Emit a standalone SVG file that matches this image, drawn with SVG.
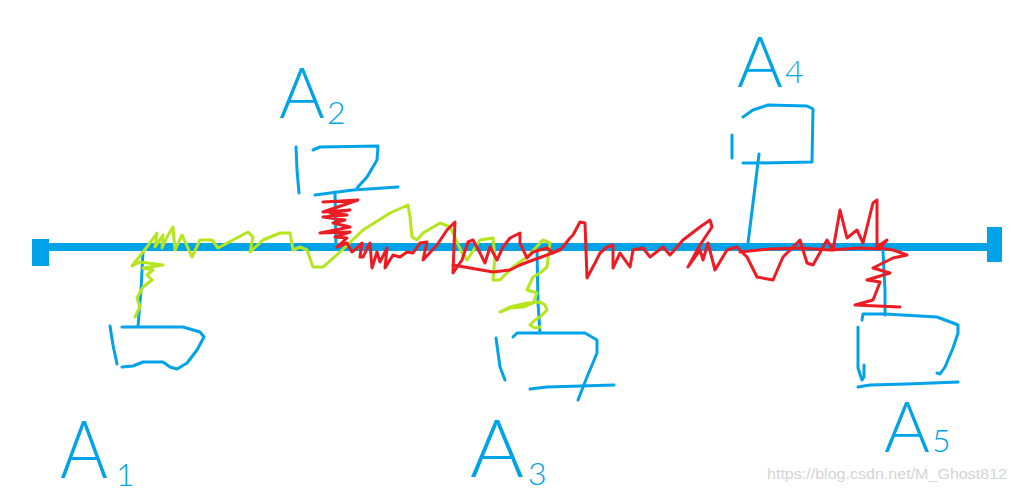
<svg xmlns="http://www.w3.org/2000/svg" width="1017" height="493" viewBox="0 0 1017 493">
<style>
.b{fill:none;stroke:#00a2e8;stroke-width:3;stroke-linecap:round;stroke-linejoin:round}
.g{fill:none;stroke:#b5e61d;stroke-width:3;stroke-linecap:round;stroke-linejoin:round}
.r{fill:none;stroke:#ed1c24;stroke-width:3;stroke-linecap:round;stroke-linejoin:round}
.lbl{font-family:Lato,"Liberation Sans",sans-serif;font-weight:300;fill:#00a2e8;font-size:80px}
.sm{font-size:70px}
.sub{font-size:32px}
.wm{font-family:"Liberation Sans",Arial,sans-serif;font-size:15px;fill:#d4d4d4}
</style>
<rect width="1017" height="493" fill="#ffffff"/>
<g id="bus">
<line x1="40" y1="247" x2="995" y2="247" stroke="#00a2e8" stroke-width="8"/>
<rect x="32" y="239" width="17" height="27" fill="#00a2e8"/>
<rect x="987" y="227" width="15" height="35" fill="#00a2e8"/>
</g>
<g id="connectors">
<polyline class="b" points="143,252 141,290 138,326"/>
<polyline class="b" points="335,192 336,248"/>
<polyline class="b" points="537,250 538,303 540,333"/>
<polyline class="b" points="759,154 755,187 748,243"/>
<polyline class="b" points="883,252 885,290 885,315"/>
</g>
<g id="node-a1">
<polyline class="b" points="110,326 113,345 117,364"/>
<polyline class="b" points="122,327 183,327 200,332 204,337 197,350 187,363 177,369 170,367 163,362 143,362 133,366 122,367"/>
<text class="lbl"><tspan x="60" y="478" textLength="48" lengthAdjust="spacingAndGlyphs">A</tspan><tspan class="sub" x="116" y="486">1</tspan></text>
</g>
<g id="node-a2">
<polyline class="b" points="296,147 297,170 299,193"/>
<polyline class="b" points="313,150 320,147 378,146 377,160 367,177 357,188"/>
<polyline class="b" points="315,195 353,190 398,187"/>
<text class="lbl sm" x="279" y="118">A<tspan class="sub" dx="2" dy="6">2</tspan></text>
</g>
<g id="node-a3">
<polyline class="b" points="496,338 500,367 505,380"/>
<polyline class="b" points="513,337 517,333 585,333 597,340 597,353 587,377 578,400"/>
<polyline class="b" points="530,389 547,387 614,385"/>
<text class="lbl"><tspan x="470" y="477" textLength="54" lengthAdjust="spacingAndGlyphs">A</tspan><tspan class="sub" x="528" y="485">3</tspan></text>
</g>
<g id="node-a4">
<polyline class="b" points="743,117 753,110 768,105 807,106 813,109 812,162 755,163 743,163"/>
<polyline class="b" points="732,135 732,158"/>
<text class="lbl sm" x="737" y="87">A<tspan class="sub" dx="2" dy="-4">4</tspan></text>
</g>
<g id="node-a5">
<polyline class="b" points="862,320 863,314 885,314 937,317 953,323 958,325 958,333 953,348 945,367 940,374 937,373"/>
<polyline class="b" points="858,327 858,368 862,380 864,377 864,365"/>
<polyline class="b" points="858,387 870,385 907,384 958,382"/>
<text class="lbl sm" x="884" y="452">A<tspan class="sub" dx="2" dy="0">5</tspan></text>
</g>
<g id="scribbles">
<polyline class="g" points="135,317 140,307 137,298 143,287 152,280 147,275 153,270 143,268 163,265 140,262 132,266 147,247 157,233 155,247 163,235 162,248 167,237 173,227 175,250 182,235 192,257 200,240 212,240 218,248 233,240 248,232 253,237 250,252 263,240 280,233 290,233 293,250 300,247 307,250 313,267 323,267 340,252 363,230 390,213 408,205 410,217 412,237 417,240 423,233 440,223 450,227 453,233 462,253 467,260 480,240 493,238 495,257 493,280 500,280 513,267 527,257 543,240 550,243 547,267 540,273 533,277 527,290 537,293 533,303 523,307 510,308 500,312 510,307 527,303 540,302 545,305 547,310 540,317 535,320 530,325 535,328 540,327"/>
<polyline class="r" points="323,202 358,200 323,212 350,210 330,213 347,215 323,217 345,220 333,223 350,227 320,233 350,232 335,237 347,238 337,247 347,243 352,252 357,248 362,243 360,257 363,257 370,243 372,268 377,252 380,262 387,248 385,268 393,255 400,257 407,252 413,253 420,243 427,242 423,260 437,245 447,230 455,222 453,273 462,260 468,242 473,240 480,253 485,263 490,247 497,260 503,247 510,238 520,233 520,243 527,258 533,252 540,250 547,248 553,253 562,248 570,238 573,235 580,222 585,223 587,278 595,263 600,253 607,247 613,245 613,268 620,253 630,267 633,250 643,248 650,257 663,247 670,255 683,240 700,227 710,220 712,227 700,245 688,267 700,250 703,260 708,243 715,270 727,250 737,247 747,257 757,277 773,280 783,257 800,240 807,263 813,265 827,240 833,250 840,210 847,238 857,230 863,243 873,203 877,200 877,247 887,240 880,248 893,250 907,255 893,258 873,268 890,273 867,280 880,282 877,290 873,300 855,305 900,307"/>
<polyline class="r" points="453,265 470,268 493,272 510,270 520,265 533,260 547,255 560,250"/>
<polyline class="r" points="740,252 770,249 800,248 830,250 860,248 880,249"/>
</g>
<text class="wm" x="767" y="479" textLength="240" lengthAdjust="spacingAndGlyphs">https://blog.csdn.net/M_Ghost812</text>
</svg>
